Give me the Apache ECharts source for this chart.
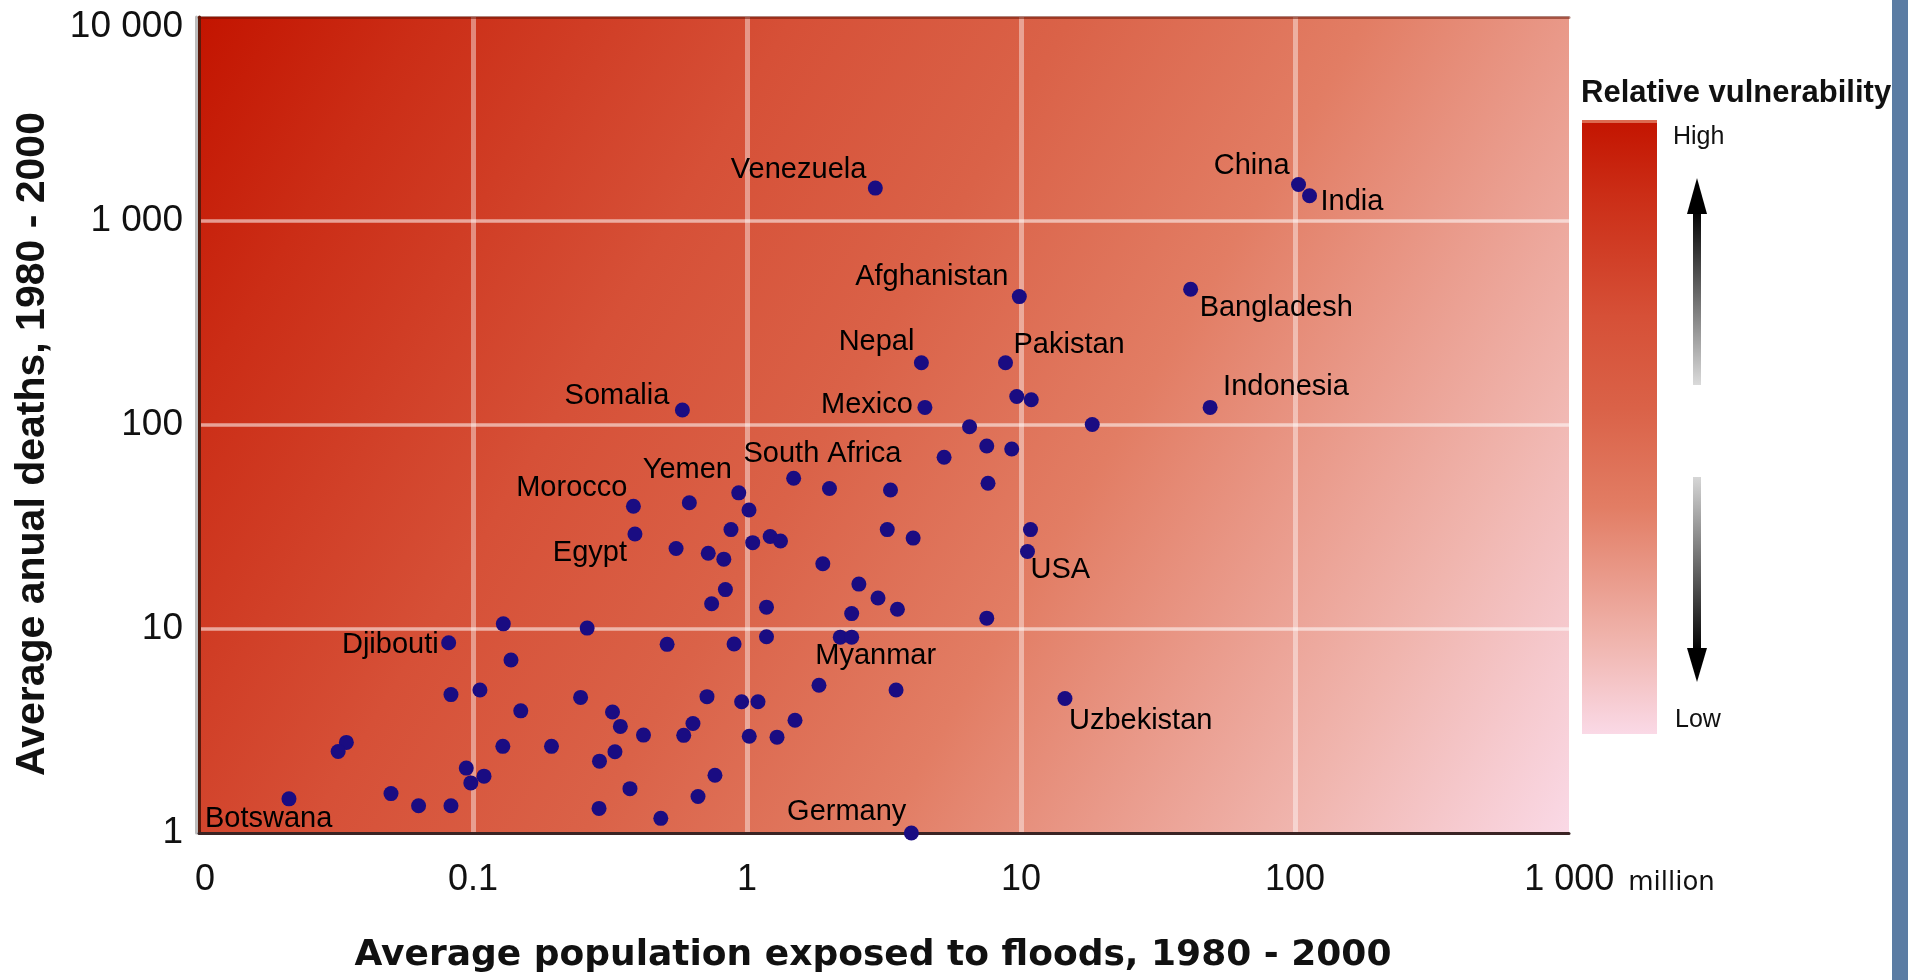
<!DOCTYPE html>
<html>
<head>
<meta charset="utf-8">
<script src="https://cdn.jsdelivr.net/npm/echarts@6/dist/echarts.min.js"></script>
<style>
html,body{margin:0;padding:0;background:#ffffff;}
#chart{width:1908px;height:980px;}
</style>
</head>
<body>
<div id="chart"></div>
<script>
// ---------------- data ----------------
const pointNames = [
  'China','India','Venezuela','Afghanistan','Bangladesh','Nepal','Pakistan','','','Indonesia',
  'Mexico','Somalia','','','','','','','','South Africa',
  '','Morocco','Yemen','','','Egypt','','','','',
  '','','','USA','','','','','','',
  '','','','','','','','','Djibouti','',
  '','','Myanmar','','','','','','','',
  '','','','','Uzbekistan','','','','','',
  '','','','','','','','','','',
  '','','','','Botswana','','','','','',
  '','Germany'
];
// average population exposed to floods, 1980-2000 (million)
const populationExposed = [
  103, 113, 2.94, 9.86, 41.6, 4.33, 8.78, 9.65, 10.9, 49.0,
  4.46, 0.581, 6.49, 18.2, 7.50, 9.25, 5.24, 7.58, 1.48, 2.00,
  3.34, 0.385, 0.616, 0.933, 1.017, 0.390, 0.874, 1.049, 1.215, 1.325,
  3.25, 4.04, 10.83, 10.56, 0.551, 0.722, 0.823, 1.891, 0.834, 0.743,
  1.178, 2.56, 3.007, 3.54, 2.41, 7.50, 0.129, 0.261, 0.0815, 0.511,
  0.897, 1.178, 2.19, 2.41, 0.1376, 0.0831, 0.106, 0.247, 0.1494, 0.7145,
  0.956, 1.097, 1.831, 3.50, 14.47, 0.323, 0.345, 0.419, 0.635, 0.5875,
  1.019, 1.287, 1.497, 0.0345, 0.0322, 0.1285, 0.1934, 0.3297, 0.2895, 0.0945,
  0.1097, 0.0982, 0.764, 0.374, 0.0213, 0.0502, 0.0633, 0.0831, 0.6625, 0.2884,
  0.4846, 3.98
];
// average annual deaths, 1980-2000
const annualDeaths = [
  1510, 1330, 1450, 426, 463, 202, 202, 138, 133, 122,
  122, 118.5, 98.1, 100.6, 78.9, 76.3, 69.5, 51.8, 54.8, 48.8,
  48.0, 40.0, 41.6, 46.5, 38.3, 29.2, 30.7, 26.5, 28.4, 27.0,
  30.7, 27.9, 30.7, 24.0, 24.8, 23.5, 22.0, 20.9, 15.6, 13.3,
  12.8, 16.6, 14.2, 12.5, 11.9, 11.3, 10.6, 10.1, 8.56, 8.41,
  8.44, 9.16, 9.12, 9.12, 7.05, 4.77, 5.02, 4.62, 3.97, 4.66,
  4.40, 4.40, 5.30, 5.02, 4.56, 3.92, 3.33, 3.02, 3.44, 3.01,
  2.98, 2.95, 3.57, 2.78, 2.51, 2.66, 2.66, 2.50, 2.25, 2.08,
  1.90, 1.76, 1.92, 1.65, 1.47, 1.56, 1.36, 1.36, 1.51, 1.32,
  1.18, 1.0
];
const xTickLabels = ['0', '0.1', '1', '10', '100', '1 000'];
const yTickLabels = ['1', '10', '100', '1 000', '10 000'];
const xUnit = 'million';
const xTitle = 'Average population exposed to floods, 1980 - 2000';
const yTitle = 'Average anual deaths, 1980 - 2000';
const legendTitle = 'Relative vulnerability';
const legendHigh = 'High';
const legendLow = 'Low';

// ---------------- styling ----------------
// label placement relative to the dot: [dx, dy, align]
const labelPlacement = {
  'Venezuela': [-9, -18, 'right'],
  'China': [-9, -18, 'right'],
  'India': [11, 6, 'left'],
  'Afghanistan': [-11, -20, 'right'],
  'Bangladesh': [9, 19, 'left'],
  'Nepal': [-7, -21, 'right'],
  'Pakistan': [8, -18, 'left'],
  'Indonesia': [13, -20, 'left'],
  'Mexico': [-12, -2, 'right'],
  'Somalia': [-13, -14, 'right'],
  'South Africa': [-7, -35, 'center'],
  'Yemen': [-2, -33, 'center'],
  'Morocco': [-6, -18, 'right'],
  'Egypt': [-8, 19, 'right'],
  'USA': [3, 19, 'left'],
  'Djibouti': [-10, 2, 'right'],
  'Myanmar': [-25, 19, 'left'],
  'Uzbekistan': [4, 22, 'left'],
  'Germany': [-5, -21, 'right'],
  'Botswana': [-84, 20, 'left']
};

const gradStops = [
  { offset: 0, color: '#C31400' },
  { offset: 0.12, color: '#CB2D16' },
  { offset: 0.32, color: '#D65037' },
  { offset: 0.47, color: '#DA6248' },
  { offset: 0.63, color: '#E27D64' },
  { offset: 0.85, color: '#F0B5AE' },
  { offset: 1, color: '#FAD9E6' }
];

const seriesData = populationExposed.map(function (x, i) {
  const name = pointNames[i];
  const item = { value: [x, annualDeaths[i]], name: name };
  const p = labelPlacement[name];
  if (p) {
    item.label = {
      show: true,
      position: 'inside',
      offset: [p[0], p[1]],
      align: p[2],
      verticalAlign: 'middle'
    };
  }
  return item;
});

function xLabel(v) {
  const i = Math.round(Math.log10(v)) + 2;
  const t = xTickLabels[i];
  if (i === 0) return '{z|' + t + '}';
  if (i === xTickLabels.length - 1) return '{p| }' + t + '{m|' + xUnit + '}';
  return t;
}
function yLabel(v) {
  const i = Math.round(Math.log10(v));
  const t = yTickLabels[i];
  if (i === yTickLabels.length - 1) return '{t|' + t + '}';
  return t;
}

const chart = echarts.init(document.getElementById('chart'), null, { renderer: 'canvas' });

const option = {
  animation: false,
  backgroundColor: '#ffffff',
  grid: {
    left: 199, top: 17, width: 1370, height: 816,
    containLabel: false,
    outerBoundsMode: 'none',
    show: true,
    borderWidth: 0,
    backgroundColor: { type: 'linear', x: 0, y: 0, x2: 1, y2: 1, colorStops: gradStops }
  },
  xAxis: [{
    type: 'log', logBase: 10, min: 0.01, max: 1000, position: 'bottom',
    axisLine: { show: true, lineStyle: { color: '#3a2424', width: 3 } },
    axisTick: { show: false },
    axisLabel: {
      show: true, margin: 29, color: '#111', fontFamily: 'Liberation Sans', fontSize: 36,
      formatter: xLabel,
      rich: {
        z: { fontFamily: 'Liberation Sans', fontSize: 36, color: '#111', padding: [0, 0, 0, 12] },
        p: { fontFamily: 'Liberation Sans', fontSize: 36, width: 101 },
        m: { fontFamily: 'DejaVu Sans', fontSize: 26, color: '#111', padding: [0, 0, 2, 14], verticalAlign: 'bottom' }
      }
    },
    splitLine: { show: true, showMinLine: false, showMaxLine: false, lineStyle: { color: 'rgba(255,255,255,0.42)', width: 5 } },
    name: xTitle, nameLocation: 'middle', nameGap: 105,
    nameTextStyle: { fontFamily: 'DejaVu Sans', fontWeight: 'bold', fontSize: 36, color: '#111', padding: [0, 22, 0, 0] }
  }, {
    type: 'log', logBase: 10, min: 0.01, max: 1000, position: 'top',
    axisLine: { show: true, lineStyle: { color: 'rgba(100,15,0,0.5)', width: 3 } },
    axisTick: { show: false }, axisLabel: { show: false }, splitLine: { show: false }
  }],
  yAxis: [{
    type: 'log', logBase: 10, min: 1, max: 10000, position: 'left',
    axisLine: { show: true, lineStyle: { color: '#5a1a0c', width: 3 } },
    axisTick: { show: false },
    axisLabel: {
      show: true, margin: 16, color: '#111', fontFamily: 'Liberation Sans', fontSize: 37,
      formatter: yLabel,
      rich: { t: { fontFamily: 'Liberation Sans', fontSize: 37, color: '#111', padding: [19, 0, 0, 0] } }
    },
    splitLine: { show: true, showMinLine: false, showMaxLine: false, lineStyle: { color: 'rgba(255,255,255,0.55)', width: 3.5 } },
    name: yTitle, nameLocation: 'middle', nameGap: 146,
    nameTextStyle: { fontFamily: 'Liberation Sans', fontWeight: 'bold', fontSize: 41, color: '#111', padding: [0, 38, 0, 0] }
  }, {
    type: 'log', logBase: 10, min: 1, max: 10000, position: 'left', offset: 3,
    axisLine: { show: true, lineStyle: { color: '#bdbdbd', width: 3 } },
    axisTick: { show: false }, axisLabel: { show: false }, splitLine: { show: false }
  }],
  series: [{
    type: 'scatter',
    xAxisIndex: 0, yAxisIndex: 0,
    data: seriesData,
    symbol: 'circle',
    symbolSize: 15,
    clip: false,
    z: 5,
    itemStyle: { color: '#1a0c82', opacity: 1 },
    label: { show: false, formatter: '{b}', fontFamily: 'Liberation Sans', fontSize: 29, color: '#000' },
    emphasis: { disabled: true }
  }],
  graphic: [
    { type: 'rect', left: 1892, top: 0, shape: { width: 16, height: 980 }, style: { fill: '#5b7ca3' }, silent: true },
    { type: 'text', x: 1581, y: 93, style: { text: legendTitle, font: 'bold 31px "Liberation Sans"', fill: '#111', align: 'left', verticalAlign: 'middle' }, silent: true },
    { type: 'rect', x: 1582, y: 120, shape: { width: 75, height: 614 },
      style: { fill: { type: 'linear', x: 0, y: 0, x2: 0, y2: 1, colorStops: gradStops } }, silent: true },
    { type: 'rect', x: 1582, y: 120, shape: { width: 75, height: 3 }, style: { fill: '#dc6a50' }, silent: true },
    { type: 'text', x: 1673, y: 137, style: { text: legendHigh, font: '25px "Liberation Sans"', fill: '#111', align: 'left', verticalAlign: 'middle' }, silent: true },
    { type: 'text', x: 1675, y: 720, style: { text: legendLow, font: '25px "Liberation Sans"', fill: '#111', align: 'left', verticalAlign: 'middle' }, silent: true },
    { type: 'rect', x: 1693, y: 210, shape: { width: 8, height: 175 },
      style: { fill: { type: 'linear', x: 0, y: 0, x2: 0, y2: 1, colorStops: [{ offset: 0, color: '#000' }, { offset: 1, color: '#dadada' }] } }, silent: true },
    { type: 'polygon', shape: { points: [[1697, 178], [1707, 214], [1687, 214]] }, style: { fill: '#000' }, silent: true },
    { type: 'rect', x: 1693, y: 477, shape: { width: 8, height: 175 },
      style: { fill: { type: 'linear', x: 0, y: 0, x2: 0, y2: 1, colorStops: [{ offset: 0, color: '#d6d6d6' }, { offset: 1, color: '#000' }] } }, silent: true },
    { type: 'polygon', shape: { points: [[1687, 648], [1707, 648], [1697, 682]] }, style: { fill: '#000' }, silent: true }
  ]
};
chart.setOption(option);
</script>
</body>
</html>
